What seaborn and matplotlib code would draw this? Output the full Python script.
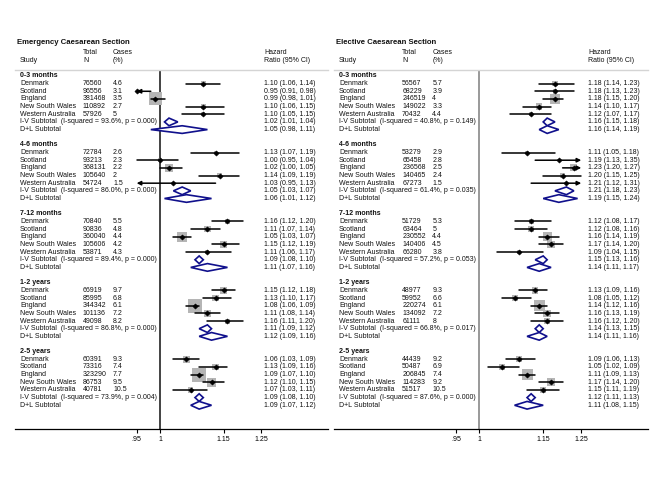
# -*- coding: utf-8 -*-

# %% imports
import numpy as np
import pandas as pd
import matplotlib.pyplot as plt
import seaborn as sns
from matplotlib.patches import Polygon
from matplotlib.transforms import blended_transform_factory

# %% data
countries = ['Denmark', 'Scotland', 'England', 'New South Wales', 'Western Australia']
periods = ['0-3 months', '4-6 months', '7-12 months', '1-2 years', '2-5 years']

# emergency caesarean section
em_n = [[76560, 96556, 381468, 110892, 57926],
        [72784, 93213, 368131, 105640, 54724],
        [70840, 90836, 360040, 105606, 53871],
        [66919, 85995, 344342, 101136, 49098],
        [60391, 73316, 323290, 86753, 40781]]
em_cases = [[4.6, 3.1, 3.5, 2.7, 5],
            [2.6, 2.3, 2.2, 2, 1.5],
            [5.5, 4.8, 4.4, 4.2, 4.3],
            [9.7, 6.8, 6.1, 7.2, 8.2],
            [9.3, 7.4, 7.7, 9.5, 10.5]]
em_hr = [[1.10, 0.95, 0.99, 1.10, 1.10],
         [1.13, 1.00, 1.02, 1.14, 1.03],
         [1.16, 1.11, 1.05, 1.15, 1.11],
         [1.15, 1.13, 1.08, 1.11, 1.16],
         [1.06, 1.13, 1.09, 1.12, 1.07]]
em_lo = [[1.06, 0.91, 0.98, 1.06, 1.05],
         [1.07, 0.951, 1.00, 1.09, 0.949],
         [1.12, 1.07, 1.03, 1.12, 1.06],
         [1.12, 1.10, 1.06, 1.08, 1.11],
         [1.03, 1.09, 1.07, 1.10, 1.03]]
em_hi = [[1.14, 0.98, 1.01, 1.15, 1.15],
         [1.19, 1.04, 1.05, 1.19, 1.13],
         [1.20, 1.14, 1.07, 1.19, 1.17],
         [1.18, 1.17, 1.09, 1.14, 1.20],
         [1.09, 1.16, 1.10, 1.15, 1.11]]
em_iv = [(1.02, 1.01, 1.04), (1.05, 1.03, 1.07), (1.09, 1.08, 1.10),
         (1.11, 1.09, 1.12), (1.09, 1.08, 1.10)]
em_i2 = [93.6, 86.0, 89.4, 86.8, 73.9]
em_p = [0.000, 0.000, 0.000, 0.000, 0.004]
em_dl = [(1.05, 0.98, 1.11), (1.06, 1.01, 1.12), (1.11, 1.07, 1.16),
         (1.12, 1.09, 1.16), (1.09, 1.07, 1.12)]

# elective caesarean section
el_n = [[56567, 68229, 246519, 149022, 70432],
        [53279, 65458, 236568, 140465, 67273],
        [51729, 63464, 230552, 140406, 66280],
        [48977, 59952, 220274, 134092, 61111],
        [44439, 50487, 206845, 114283, 51517]]
el_cases = [[5.7, 3.9, 4, 3.3, 4.4],
            [2.9, 2.8, 2.5, 2.4, 1.5],
            [5.3, 5, 4.4, 4.5, 3.8],
            [9.3, 6.6, 6.1, 7.2, 8],
            [9.2, 6.9, 7.4, 9.2, 10.5]]
el_hr = [[1.18, 1.18, 1.18, 1.14, 1.12],
         [1.11, 1.19, 1.23, 1.20, 1.21],
         [1.12, 1.12, 1.16, 1.17, 1.09],
         [1.13, 1.08, 1.14, 1.16, 1.16],
         [1.09, 1.05, 1.11, 1.17, 1.15]]
el_lo = [[1.14, 1.13, 1.15, 1.10, 1.07],
         [1.05, 1.13, 1.20, 1.15, 1.12],
         [1.08, 1.08, 1.14, 1.14, 1.04],
         [1.09, 1.05, 1.12, 1.13, 1.12],
         [1.06, 1.02, 1.09, 1.14, 1.11]]
el_hi = [[1.23, 1.23, 1.20, 1.17, 1.17],
         [1.18, 1.35, 1.27, 1.249, 1.31],
         [1.17, 1.16, 1.19, 1.20, 1.15],
         [1.16, 1.12, 1.16, 1.19, 1.20],
         [1.13, 1.09, 1.13, 1.20, 1.19]]
el_iv = [(1.16, 1.15, 1.18), (1.21, 1.18, 1.23), (1.15, 1.13, 1.16),
         (1.14, 1.13, 1.15), (1.12, 1.11, 1.13)]
el_i2 = [40.8, 61.4, 57.2, 66.8, 87.6]
el_p = [0.149, 0.035, 0.053, 0.017, 0.000]
el_dl = [(1.16, 1.14, 1.19), (1.19, 1.15, 1.24), (1.14, 1.11, 1.17),
         (1.14, 1.11, 1.16), (1.11, 1.08, 1.15)]

xticks = [0.95, 1, 1.15, 1.25]
xticklabels = ['.95', '1', '1.15', '1.25']


# %% long format frames
def make_frame(n, cases, hr, lo, hi):
    rows = []
    for g, period in enumerate(periods):
        for i, c in enumerate(countries):
            rows.append(dict(period=period, country=c, row=g * 9 + 1 + i,
                             n=n[g][i], cases=cases[g][i],
                             hr=hr[g][i], lo=lo[g][i], hi=hi[g][i]))
    df = pd.DataFrame(rows)
    se = (np.log(df['hi']) - np.log(df['lo'])) / (2 * 1.96)
    df['weight'] = 1 / se ** 2
    return df


df_em = make_frame(em_n, em_cases, em_hr, em_lo, em_hi)
df_el = make_frame(el_n, el_cases, el_hr, el_lo, el_hi)
wmax = max(df_em['weight'].max(), df_el['weight'].max())

# %% plot
sns.set_theme(style='white')
plt.rcParams['font.family'] = ['Liberation Sans', 'DejaVu Sans']

W, H = 659, 479
fig = plt.figure(figsize=(W / 100, H / 100), dpi=100)

XMIN, XMAX = 0.95, 1.25
FS = 5.0
TXT = '#111111'
NAVY = '#10108c'


def draw_panel(ax, title, df, iv, i2, pval, dl, refcolor, hr_col):
    ax.set_xscale('log')
    ax.set_xlim(0.727, 1.447)
    ax.set_ylim(46.1, -0.78)
    tr = blended_transform_factory(ax.transAxes, ax.transData)

    # boxes
    box = df[(df['hr'] > XMIN) & (df['hr'] < XMAX)]
    sns.scatterplot(data=box, x='hr', y='row', size='weight', sizes=(0, 105),
                    size_norm=(0, wmax), marker='s', color='#b5b5b5',
                    edgecolor='none', legend=False, ax=ax, zorder=2)
    # CI lines, with arrows where cut at the plot range
    arr = dict(arrowstyle='-|>', color='black', lw=1.1,
               mutation_scale=6, shrinkA=0, shrinkB=0)
    for _, r in df.iterrows():
        a, b = max(r['lo'], XMIN), min(r['hi'], XMAX)
        if r['lo'] < XMIN:
            ax.annotate('', xy=(a, r['row']), xytext=(b, r['row']), arrowprops=arr)
        elif r['hi'] > XMAX:
            ax.annotate('', xy=(b, r['row']), xytext=(a, r['row']), arrowprops=arr)
        else:
            ax.plot([a, b], [r['row'], r['row']], color='black', lw=1.1, zorder=3)
    sns.scatterplot(data=df, x='hr', y='row', marker='D', s=7, color='black',
                    edgecolor='black', linewidth=0.4, legend=False, ax=ax, zorder=4)

    # subtotal diamonds
    for g in range(len(periods)):
        for k, (m, l, h) in enumerate([iv[g], dl[g]]):
            y = g * 9 + 6 + k
            dia = Polygon([(l, y), (m, y - 0.5), (h, y), (m, y + 0.5)],
                          closed=True, facecolor='white', edgecolor=NAVY,
                          lw=1.2, zorder=3)
            ax.add_patch(dia)

    ax.axvline(1, color=refcolor, lw=1.2, zorder=1)

    # text columns
    cx = [0.016, 0.217, 0.313]
    ax.text(0.007, -4.4, title, transform=tr, fontsize=5.6, fontweight='bold',
            va='center', color=TXT)
    ax.text(cx[1], -3.0, 'Total', transform=tr, fontsize=FS, va='center', color=TXT)
    ax.text(cx[2], -3.0, 'Cases', transform=tr, fontsize=FS, va='center', color=TXT)
    ax.text(hr_col, -3.0, 'Hazard', transform=tr, fontsize=FS, va='center', color=TXT)
    ax.text(cx[0], -2.0, 'Study', transform=tr, fontsize=FS, va='center', color=TXT)
    ax.text(cx[1], -2.0, 'N', transform=tr, fontsize=FS, va='center', color=TXT)
    ax.text(cx[2], -2.0, '(%)', transform=tr, fontsize=FS, va='center', color=TXT)
    ax.text(hr_col, -2.0, 'Ratio (95% CI)', transform=tr, fontsize=FS,
            va='center', color=TXT)

    for g, period in enumerate(periods):
        ax.text(cx[0], g * 9, period, transform=tr, fontsize=FS,
                fontweight='bold', va='center', color=TXT)
        sub = df[df['period'] == period]
        for _, r in sub.iterrows():
            ax.text(cx[0], r['row'], r['country'], transform=tr, fontsize=FS,
                    va='center', color=TXT)
            ax.text(cx[1], r['row'], str(r['n']), transform=tr, fontsize=FS,
                    va='center', color=TXT)
            ax.text(cx[2], r['row'], '{:g}'.format(r['cases']), transform=tr,
                    fontsize=FS, va='center', color=TXT)
            ax.text(hr_col, r['row'], '{:.2f} ({:.2f}, {:.2f})'.format(
                r['hr'], r['lo'], r['hi']), transform=tr, fontsize=FS,
                va='center', color=TXT)
        ax.text(cx[0], g * 9 + 6,
                'I-V Subtotal  (I-squared = {:.1f}%, p = {:.3f})'.format(i2[g], pval[g]),
                transform=tr, fontsize=FS, va='center', color=TXT)
        ax.text(cx[0], g * 9 + 7, 'D+L Subtotal', transform=tr, fontsize=FS,
                va='center', color=TXT)
        for k, (m, l, h) in enumerate([iv[g], dl[g]]):
            ax.text(hr_col, g * 9 + 6 + k, '{:.2f} ({:.2f}, {:.2f})'.format(m, l, h),
                    transform=tr, fontsize=FS, va='center', color=TXT)

    # axes styling
    for s in ['left', 'right']:
        ax.spines[s].set_visible(False)
    ax.spines['top'].set_color('#d4d4d4')
    ax.spines['top'].set_linewidth(1.0)
    ax.spines['bottom'].set_color('black')
    ax.spines['bottom'].set_linewidth(0.9)
    ax.set_xticks(xticks)
    ax.set_xticklabels(xticklabels)
    ax.xaxis.set_minor_locator(plt.NullLocator())
    ax.tick_params(axis='x', bottom=True, length=3, width=0.8, pad=2,
                   labelsize=FS, colors='black')
    ax.set_yticks([])
    ax.set_xlabel('')
    ax.set_ylabel('')


bottom = 1 - 429 / H
height = (429 - 70) / H
ax1 = fig.add_axes([15 / W, bottom, 313 / W, height])
ax2 = fig.add_axes([334 / W, bottom, 314 / W, height])

draw_panel(ax1, 'Emergency Caesarean Section', df_em, em_iv, em_i2, em_p, em_dl,
           '#222222', (264 - 15) / 313)
draw_panel(ax2, 'Elective Caesarean Section', df_el, el_iv, el_i2, el_p, el_dl,
           '#888888', (588 - 334) / 314)

plt.savefig('out.png', dpi=100)
